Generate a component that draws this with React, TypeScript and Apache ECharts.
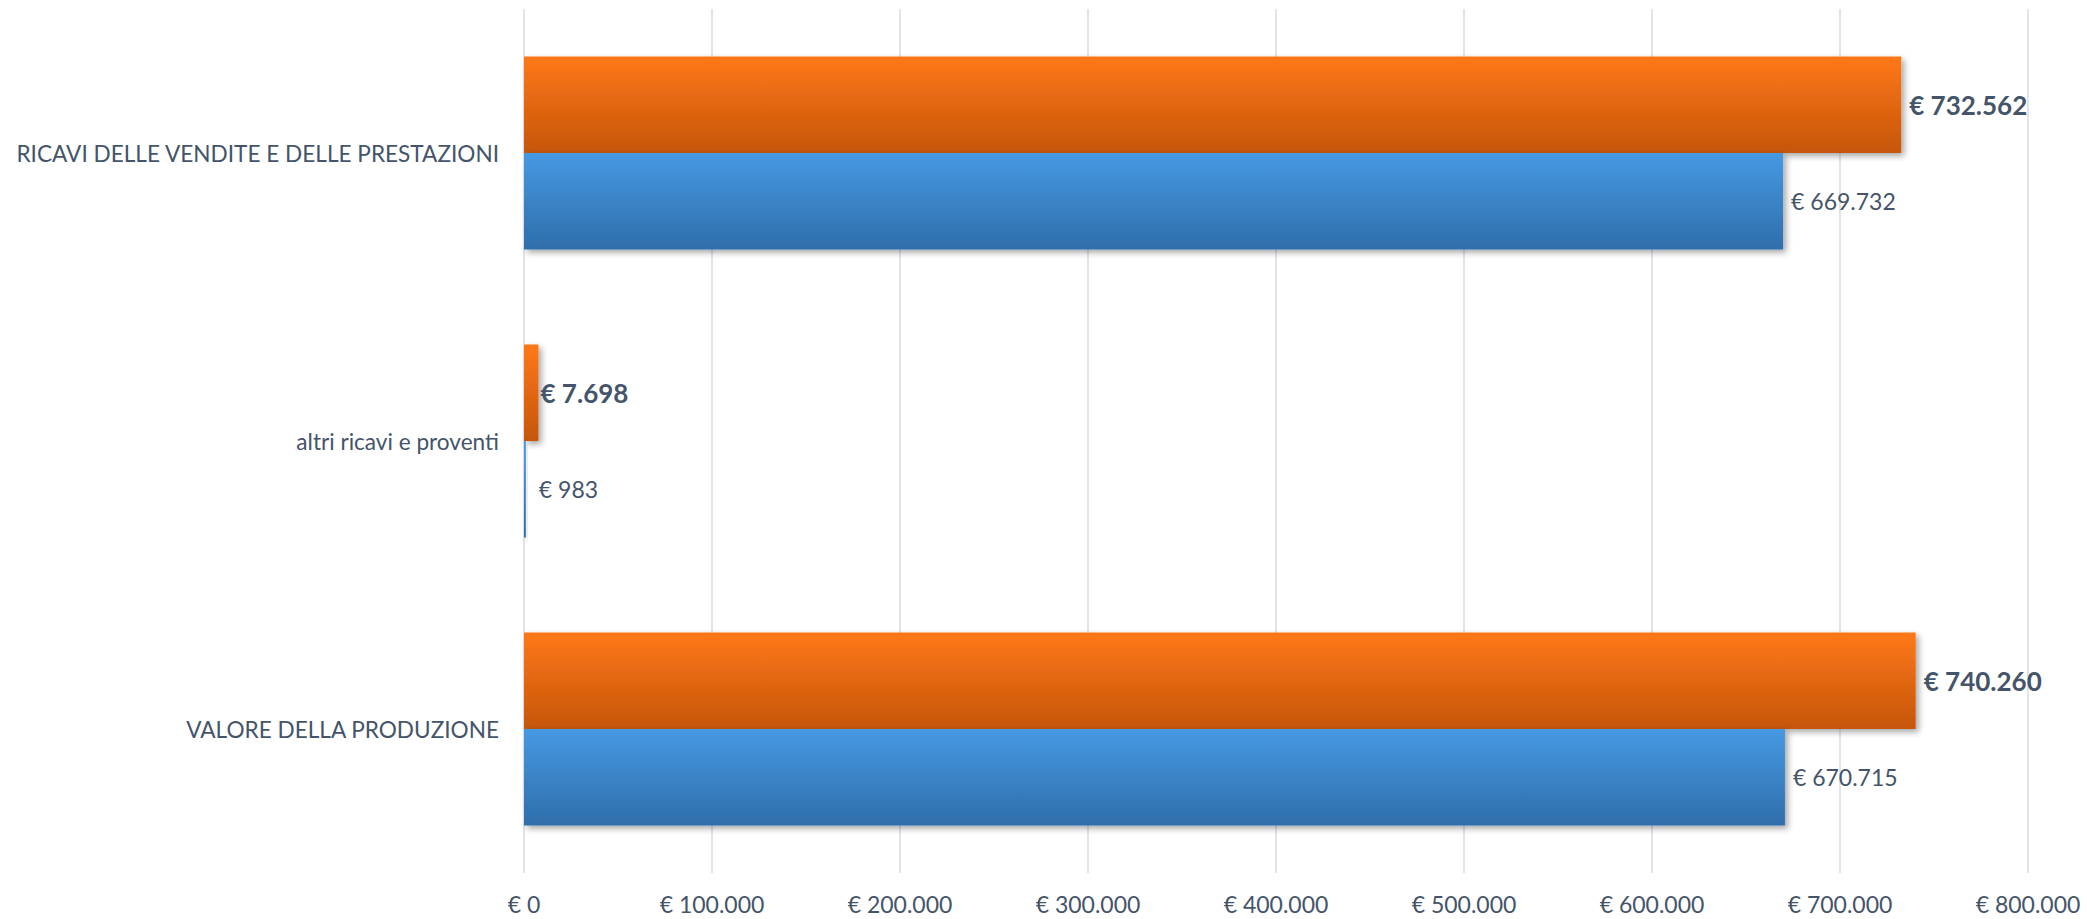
import React, { useEffect, useRef } from "react";
import * as echarts from "echarts";

// Categories listed bottom-to-top (ECharts category y axis grows upward)
const categories = [
  "VALORE DELLA PRODUZIONE",
  "altri ricavi e proventi",
  "RICAVI DELLE VENDITE E DELLE PRESTAZIONI",
];
const seriesNames = ["Anno corrente", "Anno precedente"];
const currentValues = [740260, 7698, 732562];
const previousValues = [670715, 983, 669732];
const axisMin = 0;
const axisMax = 800000;
const axisInterval = 100000;

const TEXT = "#44546A";
const FONT = "Lato, 'Open Sans', sans-serif";

function fmt(v: number): string {
  return "€ " + String(Math.round(v)).replace(/\B(?=(\d{3})+(?!\d))/g, ".");
}

export default function App() {
  const ref = useRef<HTMLDivElement>(null);
  useEffect(() => {
    if (!ref.current) return;
    const chart = echarts.init(ref.current, undefined, { renderer: "svg" });
    const shadow = {
      shadowColor: "rgba(0,0,0,0.35)",
      shadowBlur: 6,
      shadowOffsetX: 3,
      shadowOffsetY: 3,
    };
    // very short bars: Excel places their labels at a slightly different gap
    const currentData = currentValues.map((v) =>
      v < 20000 ? { value: v, label: { distance: 2 } } : v
    );
    const previousData = previousValues.map((v) =>
      v < 20000 ? { value: v, label: { distance: 13 } } : v
    );
    chart.setOption({
      animation: false,
      textStyle: { fontFamily: FONT, color: TEXT },
      grid: { left: 524, right: 59, top: 9, bottom: 46, containLabel: false },
      xAxis: {
        type: "value",
        min: axisMin,
        max: axisMax,
        interval: axisInterval,
        axisLine: { show: false },
        axisTick: { show: false },
        splitLine: { show: true, lineStyle: { color: "#E1E5EA", width: 2 } },
        axisLabel: {
          formatter: (v: number) => fmt(v),
          color: TEXT,
          fontFamily: FONT,
          fontSize: 23,
          margin: 19,
        },
      },
      yAxis: {
        type: "category",
        data: categories,
        axisLine: { show: false },
        axisTick: { show: false },
        splitLine: { show: false },
        axisLabel: {
          color: TEXT,
          fontFamily: FONT,
          fontSize: 22.6,
          margin: 25,
        },
      },
      series: [
        {
          name: seriesNames[0],
          type: "bar",
          data: currentData,
          barGap: "0%",
          barCategoryGap: "33%",
          itemStyle: {
            color: new echarts.graphic.LinearGradient(0, 0, 0, 1, [
              { offset: 0, color: "#FF7815" },
              { offset: 1, color: "#C5560E" },
            ]),
            ...shadow,
          },
          label: {
            show: true,
            position: "right",
            distance: 8,
            formatter: (p: any) => fmt(p.value),
            color: TEXT,
            fontFamily: FONT,
            fontSize: 26,
            fontWeight: "bold",
          },
        },
        {
          name: seriesNames[1],
          type: "bar",
          data: previousData,
          barGap: "0%",
          barCategoryGap: "33%",
          itemStyle: {
            color: new echarts.graphic.LinearGradient(0, 0, 0, 1, [
              { offset: 0, color: "#4699E2" },
              { offset: 1, color: "#2F6EAB" },
            ]),
            ...shadow,
          },
          label: {
            show: true,
            position: "right",
            distance: 8,
            formatter: (p: any) => fmt(p.value),
            color: TEXT,
            fontFamily: FONT,
            fontSize: 23,
          },
        },
      ],
    });
    return () => chart.dispose();
  }, []);
  return (
    <div
      ref={ref}
      style={{ position: "fixed", left: 0, top: 0, width: 2087, height: 919, background: "#fff" }}
    />
  );
}
